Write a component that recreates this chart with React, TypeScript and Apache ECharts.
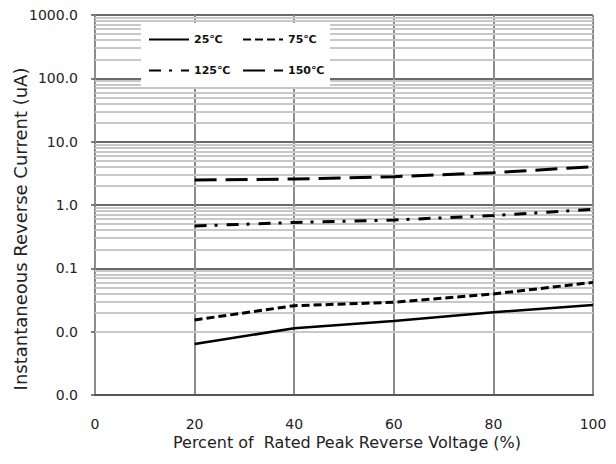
import React, { useEffect, useRef } from "react";
import * as echarts from "echarts";

const xValues = [20, 40, 60, 80, 100];
const s25 = [0.0064, 0.0113, 0.0148, 0.0202, 0.0263];
const s75 = [0.0153, 0.0257, 0.0291, 0.0394, 0.06];
const s125 = [0.466, 0.53, 0.58, 0.68, 0.855];
const s150 = [2.48, 2.57, 2.8, 3.24, 4.03];
const seriesNames = ["25℃", "75℃", "125℃", "150℃"];
const xTitle = "Percent of  Rated Peak Reverse Voltage (%)";
const yTitle = "Instantaneous Reverse Current (uA)";
const yMin = 0.001;
const yMax = 1000;

const minorLines: number[] = [];
for (let e = -3; e < 3; e++) {
  for (let m = 2; m <= 9; m++) minorLines.push(m * Math.pow(10, e));
}

const FONT = "DejaVu Sans";

export default function App() {
  const ref = useRef<HTMLDivElement>(null);
  useEffect(() => {
    const chart = echarts.init(ref.current!, null, { renderer: "svg" });
    const mk = (vals: number[]) => xValues.map((x, i) => [x, vals[i]]);
    const lineSeries = (name: string, vals: number[], type: any, width: number) => ({
      name,
      type: "line",
      data: mk(vals),
      symbol: "none",
      z: 5,
      lineStyle: { color: "#000", width, type },
      itemStyle: { color: "#000" },
    });
    const legendBase = {
      orient: "vertical",
      top: 34,
      padding: 0,
      itemGap: 20,
      itemWidth: 40,
      itemHeight: 12,
      z: 20,
      itemStyle: { color: "rgba(0,0,0,0)", borderWidth: 0, opacity: 0 },
      textStyle: { fontFamily: FONT, fontSize: 11, fontWeight: "bold", color: "#111" },
    };
    chart.setOption({
      animation: false,
      backgroundColor: "#fff",
      grid: { left: 95, right: 23, top: 15, bottom: 69 },
      xAxis: {
        type: "value",
        min: 0,
        max: 100,
        interval: 20,
        axisLine: { show: true, lineStyle: { color: "#555", width: 2 } },
        axisTick: { show: false },
        axisLabel: { color: "#222", fontFamily: FONT, fontSize: 14, margin: 22 },
        splitLine: { show: true, lineStyle: { color: "#8c8c8c", width: 2 } },
      },
      yAxis: {
        type: "log",
        logBase: 10,
        min: yMin,
        max: yMax,
        interval: 1,
        axisLine: { show: true, lineStyle: { color: "#8c8c8c", width: 2 } },
        axisTick: { show: true, length: 4, lineStyle: { color: "#555", width: 1.5 } },
        axisLabel: {
          color: "#222",
          fontFamily: FONT,
          fontSize: 14,
          margin: 17,
          formatter: (v: number) => Number(v).toFixed(1),
        },
        splitLine: { show: true, lineStyle: { color: "#6a6a6a", width: 2 } },
        minorTick: { show: false },
        minorSplitLine: { show: false },
      },
      legend: [
        { ...legendBase, data: [seriesNames[0], seriesNames[2]], left: 148 },
        { ...legendBase, data: [seriesNames[1], seriesNames[3]], left: 242 },
      ],
      graphic: [
        {
          type: "rect",
          z: 10,
          shape: { x: 141, y: 23, width: 189, height: 64 },
          style: { fill: "#fff" },
        },
        {
          type: "text",
          x: 20,
          y: 229,
          rotation: Math.PI / 2,
          style: {
            text: yTitle,
            fontFamily: FONT,
            fontSize: 18,
            fill: "#222",
            align: "center",
            verticalAlign: "middle",
          },
        },
        {
          type: "text",
          x: 347,
          y: 442,
          style: {
            text: xTitle,
            fontFamily: FONT,
            fontSize: 16,
            fill: "#222",
            align: "center",
            verticalAlign: "middle",
          },
        },
      ],
      series: [
        {
          name: "minor",
          type: "line",
          data: [],
          z: 1,
          silent: true,
          markLine: {
            silent: true,
            symbol: ["none", "none"],
            label: { show: false },
            lineStyle: { color: "#c8c8c8", width: 2, type: "solid" },
            data: minorLines.map((v) => ({ yAxis: v })),
          },
        },
        lineSeries(seriesNames[0], s25, "solid", 2.5),
        lineSeries(seriesNames[1], s75, [8, 4], 3),
        lineSeries(seriesNames[2], s125, [12, 8, 3, 9], 3),
        lineSeries(seriesNames[3], s150, [22, 9], 3),
      ],
    });
    return () => chart.dispose();
  }, []);
  return (
    <div
      ref={ref}
      style={{ position: "fixed", left: 0, top: 0, width: 616, height: 464 }}
    />
  );
}
